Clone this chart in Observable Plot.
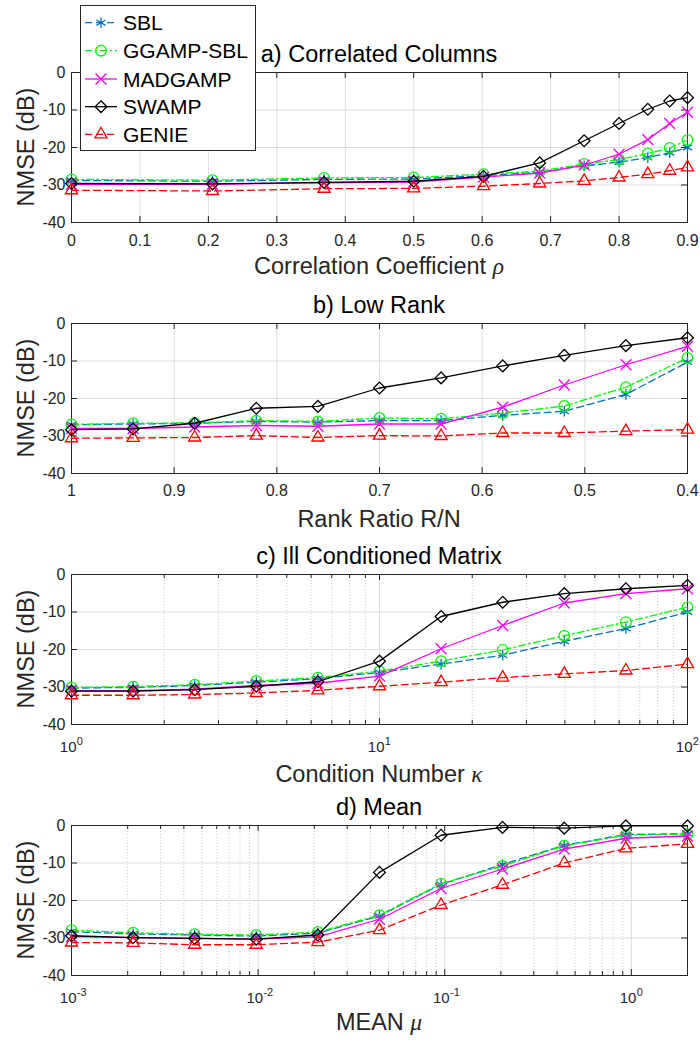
<!DOCTYPE html>
<html><head><meta charset="utf-8">
<script src="https://cdn.jsdelivr.net/npm/d3@7"></script>
<script src="https://cdn.jsdelivr.net/npm/@observablehq/plot@0.6"></script>
<style>
body{margin:0;background:#fff;}
#chart{position:relative;width:700px;height:1042px;font-family:"Liberation Sans",Arial,Helvetica,sans-serif;background:#fff;}
#chart svg{position:absolute;left:0;}
</style></head><body><div id="chart"></div>
<script>
// ---------- data ----------
const seriesNames = ["SBL", "GGAMP-SBL", "MADGAMP", "SWAMP", "GENIE"];
const yTicks = [0, -10, -20, -30, -40];

// a) Correlated Columns
const rhoValues = [0, 0.206, 0.369, 0.5, 0.602, 0.684, 0.749, 0.8, 0.842, 0.874, 0.9];
const sblA   = [-28.8, -29.0, -28.5, -28.4, -27.5, -26.6, -24.9, -23.9, -22.7, -21.4, -20.0];
const ggampA = [-28.5, -28.7, -28.1, -28.0, -27.1, -26.3, -24.4, -23.2, -21.6, -20.1, -18.0];
const madA   = [-29.8, -29.8, -29.4, -29.2, -27.9, -26.8, -24.7, -21.8, -17.9, -13.6, -10.6];
const swampA = [-29.6, -29.7, -29.3, -29.0, -27.7, -24.1, -18.2, -13.6, -9.8, -7.6, -6.7];
const genieA = [-31.4, -31.6, -31.0, -30.9, -30.3, -29.6, -28.9, -28.0, -27.1, -26.2, -25.3];
const xTicksA = [0, 0.1, 0.2, 0.3, 0.4, 0.5, 0.6, 0.7, 0.8, 0.9];
const xTickLabelsA = ["0", "0.1", "0.2", "0.3", "0.4", "0.5", "0.6", "0.7", "0.8", "0.9"];

// b) Low Rank
const rankRatio = [1, 0.94, 0.88, 0.82, 0.76, 0.70, 0.64, 0.58, 0.52, 0.46, 0.40];
const sblB   = [-27.0, -26.8, -26.6, -26.1, -26.3, -25.9, -25.9, -24.5, -23.4, -18.9, -10.3];
const ggampB = [-26.9, -26.6, -26.5, -25.9, -26.1, -25.2, -25.4, -23.9, -22.0, -17.0, -9.2];
const madB   = [-28.0, -28.0, -27.6, -27.2, -27.4, -26.8, -26.8, -22.3, -16.4, -11.0, -6.1];
const swampB = [-28.3, -28.1, -26.6, -22.6, -22.1, -17.2, -14.5, -11.3, -8.5, -5.9, -3.8];
const genieB = [-30.6, -30.5, -30.4, -29.9, -30.4, -29.9, -30.0, -29.2, -29.2, -28.7, -28.3];
const xTicksB = [1, 0.9, 0.8, 0.7, 0.6, 0.5, 0.4];
const xTickLabelsB = ["1", "0.9", "0.8", "0.7", "0.6", "0.5", "0.4"];

// c) Ill Conditioned Matrix
const kappa = [1, 1.585, 2.512, 3.981, 6.31, 10, 15.85, 25.12, 39.81, 63.1, 100];
const sblC   = [-30.3, -30.1, -29.6, -28.7, -27.8, -26.1, -23.9, -21.5, -17.8, -14.4, -10.0];
const ggampC = [-30.1, -29.9, -29.4, -28.4, -27.5, -25.8, -23.1, -20.1, -16.3, -12.7, -8.7];
const madC   = [-31.0, -31.0, -30.6, -29.6, -29.0, -27.1, -19.8, -13.6, -7.6, -5.1, -3.8];
const swampC = [-31.1, -31.1, -30.7, -29.8, -28.6, -23.1, -11.2, -7.4, -5.1, -3.8, -2.9];
const genieC = [-32.2, -32.2, -32.0, -31.6, -30.9, -29.8, -28.7, -27.5, -26.5, -25.6, -23.9];
const xTicksC = [1, 10, 100];
const xTickExpC = ["0", "1", "2"];
const xMinorC = [2, 3, 4, 5, 6, 7, 8, 9, 20, 30, 40, 50, 60, 70, 80, 90];

// d) Mean
const muValues = [0.001, 0.00214, 0.00457, 0.00977, 0.0209, 0.0447, 0.0956, 0.204, 0.437, 0.935, 2];
const sblD   = [-28.3, -28.9, -29.2, -29.5, -28.7, -24.1, -15.7, -10.4, -5.3, -2.4, -2.2];
const ggampD = [-27.9, -28.6, -29.0, -29.2, -28.4, -23.9, -15.5, -10.8, -5.4, -2.6, -2.3];
const madD   = [-29.6, -29.9, -30.1, -30.3, -29.7, -25.0, -16.8, -11.6, -6.3, -3.4, -2.8];
const swampD = [-29.4, -29.9, -30.1, -30.3, -29.2, -12.5, -2.6, -0.5, -0.7, -0.1, -0.1];
const genieD = [-31.2, -31.3, -31.8, -31.8, -31.1, -27.9, -21.2, -15.8, -10.0, -6.1, -4.9];
const xTicksD = [0.001, 0.01, 0.1, 1];
const xTickExpD = ["-3", "-2", "-1", "0"];
const xMinorD = [0.002, 0.003, 0.004, 0.005, 0.006, 0.007, 0.008, 0.009,
                 0.02, 0.03, 0.04, 0.05, 0.06, 0.07, 0.08, 0.09,
                 0.2, 0.3, 0.4, 0.5, 0.6, 0.7, 0.8, 0.9, 2];

// ---------- styles ----------
const seriesStyle = {
  "SBL":       {stroke: "#0072BD", dash: "7,4",     symbol: "asterisk",  r: 5},
  "GGAMP-SBL": {stroke: "#00FF00", dash: "7,3,2,3", symbol: "circle",    r: 5.3},
  "MADGAMP":   {stroke: "#FF00FF", dash: null,      symbol: "times",     r: 5},
  "SWAMP":     {stroke: "#000000", dash: null,      symbol: "diamond2",  r: 5.3},
  "GENIE":     {stroke: "#FF0000", dash: "7,4",     symbol: "triangle2", r: 5.8}
};
const FONT = '"Liberation Sans", Arial, Helvetica, sans-serif';
const AX = "#262626";
const W = 700, H = 251, ML = 71, MR = 13, MT = 42, MB = 59;
const PW = W - ML - MR, PH = H - MT - MB;

const panels = [
  {title: "a) Correlated Columns", xlabel: "Correlation Coefficient ", sym: "ρ", type: "linear", domain: [0, 0.9],
   xs: rhoValues, series: [sblA, ggampA, madA, swampA, genieA], ticks: xTicksA, labels: xTickLabelsA, minor: [], labelGap: 52, tickGap: 23},
  {title: "b) Low Rank", xlabel: "Rank Ratio R/N", sym: "", type: "linear", domain: [1, 0.4],
   xs: rankRatio, series: [sblB, ggampB, madB, swampB, genieB], ticks: xTicksB, labels: xTickLabelsB, minor: [], labelGap: 53.5, tickGap: 22},
  {title: "c) Ill Conditioned Matrix", xlabel: "Condition Number ", sym: "κ", type: "log", domain: [1, 100],
   xs: kappa, series: [sblC, ggampC, madC, swampC, genieC], ticks: xTicksC, exps: xTickExpC, minor: xMinorC, labelGap: 57.5, tickGap: 27},
  {title: "d) Mean", xlabel: "MEAN ", sym: "μ", type: "log", domain: [0.001, 2],
   xs: muValues, series: [sblD, ggampD, madD, swampD, genieD], ticks: xTicksD, exps: xTickExpD, minor: xMinorD, labelGap: 55, tickGap: 27}
];

const chart = document.getElementById("chart");

panels.forEach((p, i) => {
  const rows = [];
  seriesNames.forEach((name, s) => p.series[s].forEach((v, j) => rows.push({series: name, x: p.xs[j], y: v})));
  const marks = [];
  if (p.minor.length) {
    marks.push(Plot.ruleX(p.minor, {x: d => d, stroke: "#c9c9c9", strokeDasharray: "1,2"}));
  }
  marks.push(Plot.ruleX(p.ticks, {x: d => d, stroke: "#dedede"}));
  marks.push(Plot.ruleY(yTicks, {y: d => d, stroke: "#dedede"}));
  marks.push(Plot.frame({stroke: AX}));
  marks.push(Plot.tickX(p.ticks, {x: d => d, stroke: AX, insetTop: PH - 6}));
  marks.push(Plot.tickX(p.ticks, {x: d => d, stroke: AX, insetBottom: PH - 6}));
  if (p.minor.length) {
    marks.push(Plot.tickX(p.minor, {x: d => d, stroke: AX, insetTop: PH - 4}));
    marks.push(Plot.tickX(p.minor, {x: d => d, stroke: AX, insetBottom: PH - 4}));
  }
  marks.push(Plot.tickY(yTicks, {y: d => d, stroke: AX, insetRight: PW - 6}));
  marks.push(Plot.tickY(yTicks, {y: d => d, stroke: AX, insetLeft: PW - 6}));
  // y tick labels
  marks.push(Plot.text(yTicks, {y: d => d, frameAnchor: "left", dx: -6, textAnchor: "end", text: d => String(d), fontSize: 16, fill: AX}));
  // x tick labels
  if (p.type === "linear") {
    marks.push(Plot.text(p.ticks, {x: d => d, frameAnchor: "bottom", dy: p.tickGap, lineAnchor: "bottom", text: (d, k) => p.labels[k], fontSize: 16, fill: AX}));
  } else {
    marks.push(Plot.text(p.ticks, {x: d => d, frameAnchor: "bottom", dy: p.tickGap, dx: 5, textAnchor: "end", lineAnchor: "bottom", text: () => "10", fontSize: 15, fill: AX}));
    marks.push(Plot.text(p.ticks, {x: d => d, frameAnchor: "bottom", dy: p.tickGap - 7, dx: 5.3, textAnchor: "start", lineAnchor: "bottom", text: (d, k) => p.exps[k], fontSize: 11, fill: AX}));
  }
  // data
  seriesNames.forEach(name => {
    const st = seriesStyle[name];
    const d = rows.filter(r => r.series === name);
    marks.push(Plot.line(d, {x: "x", y: "y", stroke: st.stroke, strokeWidth: 1.3, strokeDasharray: st.dash}));
    marks.push(Plot.dot(d, {x: "x", y: "y", stroke: st.stroke, symbol: st.symbol, r: st.r, fill: "none", strokeWidth: 1.3}));
  });

  const svg = Plot.plot({
    width: W, height: H, marginLeft: ML, marginRight: MR, marginTop: MT, marginBottom: MB,
    x: {type: p.type, domain: p.domain, axis: null},
    y: {domain: [-40, 0], axis: null},
    style: {fontFamily: FONT, background: "transparent", overflow: "visible"},
    marks
  });
  svg.style.top = (30 + H * i) + "px";
  const s = d3.select(svg);
  s.append("text").attr("x", ML + PW / 2).attr("y", MT - 10).attr("text-anchor", "middle")
    .attr("font-size", 23.5).attr("fill", "#000").attr("font-family", FONT).text(p.title);
  const xl = s.append("text").attr("x", ML + PW / 2).attr("y", MT + PH + p.labelGap).attr("text-anchor", "middle")
    .attr("font-size", 23.5).attr("fill", AX).attr("font-family", FONT);
  xl.append("tspan").text(p.xlabel);
  if (p.sym) xl.append("tspan").attr("font-style", "italic").attr("font-family", '"Liberation Serif", "DejaVu Serif", serif').text(p.sym);
  s.append("text").attr("transform", `translate(33.5,${MT + PH / 2}) rotate(-90)`).attr("text-anchor", "middle")
    .attr("font-size", 23.5).attr("fill", AX).attr("font-family", FONT).text("NMSE (dB)");
  chart.appendChild(svg);
});

// ---------- legend ----------
const leg = d3.create("svg").attr("width", 177).attr("height", 147)
  .style("left", "80px").style("top", "5px").style("position", "absolute");
leg.append("rect").attr("x", 0.5).attr("y", 0.5).attr("width", 175).attr("height", 145)
  .attr("fill", "#fff").attr("stroke", AX).attr("stroke-width", 1);
const legY = [17.7, 45.7, 74, 101.7, 129.3];
const symMap = {asterisk: d3.symbolAsterisk, circle: d3.symbolCircle, times: d3.symbolTimes, diamond2: d3.symbolDiamond2, triangle2: d3.symbolTriangle2};
seriesNames.forEach((name, k) => {
  const st = seriesStyle[name];
  const g = leg.append("g").attr("transform", `translate(0,${legY[k]})`);
  g.append("line").attr("x1", 5).attr("x2", 37).attr("y1", 0).attr("y2", 0)
    .attr("stroke", st.stroke).attr("stroke-width", 1.3).attr("stroke-dasharray", st.dash);
  g.append("path").attr("transform", "translate(21,0)")
    .attr("d", d3.symbol(symMap[st.symbol], st.r * st.r * Math.PI)())
    .attr("fill", "none").attr("stroke", st.stroke).attr("stroke-width", 1.3);
  g.append("text").attr("x", 43).attr("y", 7.5).attr("font-size", 21).attr("fill", "#000")
    .attr("font-family", FONT).text(name);
});
chart.appendChild(leg.node());
</script></body></html>
